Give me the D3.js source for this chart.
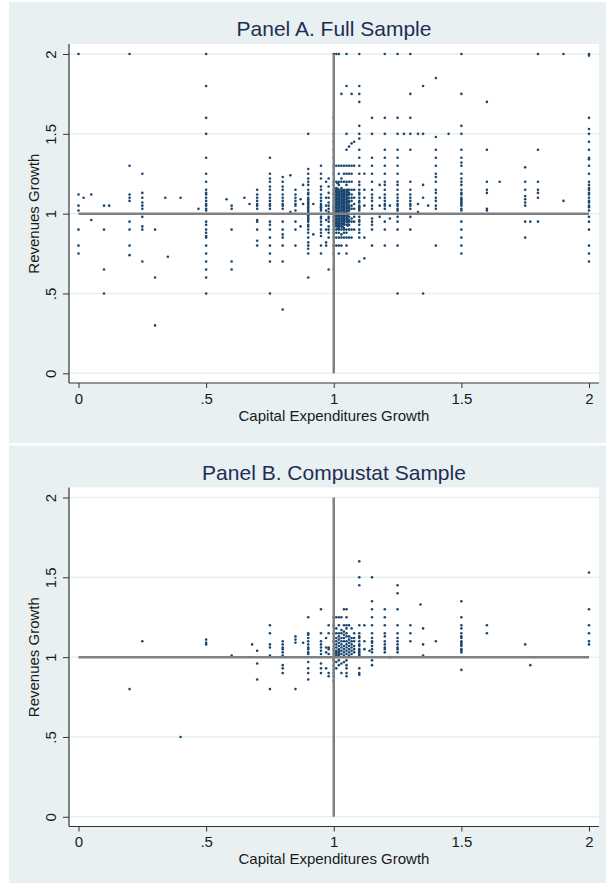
<!DOCTYPE html>
<html>
<head>
<meta charset="utf-8">
<script src="https://cdn.jsdelivr.net/npm/d3@7"></script>
<style>
body { margin: 0; background: #fff; }
text { font-family: "Liberation Sans", Arial, sans-serif; }
</style>
</head>
<body>
<svg id="chart" width="606" height="883"></svg>
<script>
// ---- data: capex growth columns and the revenue growth values found in each column ----
var panelTitles = ["Panel A. Full Sample", "Panel B. Compustat Sample"];
var xTitle = "Capital Expenditures Growth";
var yTitle = "Revenues Growth";
var xTicks = [0, 0.5, 1, 1.5, 2];
var xTickLabels = ["0", ".5", "1", "1.5", "2"];
var yTicks = [0, 0.5, 1, 1.5, 2];
var yTickLabels = ["0", ".5", "1", "1.5", "2"];

var fullCapex = [0, 0.02, 0.05, 0.1, 0.12, 0.2, 0.25, 0.3, 0.34, 0.35, 0.4, 0.47, 0.5, 0.58, 0.6, 0.65, 0.67,
    0.7, 0.75, 0.8, 0.83, 0.85, 0.87, 0.88, 0.9, 0.92, 0.95, 0.97, 0.98, 1.0, 1.01, 1.015, 1.02, 1.03, 1.035,
    1.04, 1.05, 1.055, 1.06, 1.07, 1.08, 1.1, 1.12, 1.15, 1.18, 1.2, 1.22, 1.25, 1.275, 1.3, 1.33, 1.35, 1.37,
    1.4, 1.45, 1.5, 1.6, 1.65, 1.75, 1.77, 1.8, 1.9, 2.0];
var fullRevenue = [
    [2.0, 1.12, 1.05, 1.02, 0.9, 0.8, 0.75],
    [1.1],
    [1.12, 0.96],
    [1.05, 0.9, 0.65, 0.5],
    [1.05],
    [2.0, 1.3, 1.12, 1.1, 1.08, 0.95, 0.9, 0.8, 0.74],
    [1.25, 1.13, 1.1, 1.07, 1.05, 1.03, 0.98, 0.92, 0.9, 0.7],
    [0.9, 0.6, 0.3],
    [1.1],
    [0.73],
    [1.1],
    [1.03],
    [2.0, 1.8, 1.6, 1.5, 1.35, 1.25, 1.2, 1.15, 1.13, 1.12, 1.1, 1.08, 1.06, 1.05, 1.03, 1.02, 0.95, 0.93, 0.9, 0.88, 0.86, 0.85, 0.8, 0.75, 0.7, 0.65, 0.6, 0.5],
    [1.09],
    [1.05, 1.03, 0.9, 0.7, 0.65],
    [1.1],
    [1.06],
    [1.15, 1.12, 1.1, 1.08, 1.06, 1.05, 1.03, 0.96, 0.95, 0.9, 0.83, 0.8],
    [1.35, 1.25, 1.22, 1.2, 1.17, 1.15, 1.12, 1.1, 1.08, 1.06, 1.05, 1.03, 0.95, 0.93, 0.9, 0.85, 0.8, 0.75, 0.7, 0.5],
    [1.23, 1.2, 1.17, 1.15, 1.12, 1.1, 1.08, 1.06, 1.05, 1.03, 0.95, 0.9, 0.87, 0.85, 0.8, 0.7, 0.4],
    [1.24, 1.01],
    [1.15, 1.12, 1.1, 1.08, 1.06, 1.05, 1.02, 0.95, 0.9, 0.8],
    [1.09, 0.92],
    [1.18, 1.06],
    [1.5, 1.28, 1.25, 1.22, 1.2, 1.18, 1.15, 1.13, 1.12, 1.1, 1.09, 1.08, 1.07, 1.06, 1.05, 1.04, 1.03, 1.02, 1.01, 0.99, 0.98, 0.97, 0.96, 0.95, 0.93, 0.92, 0.9, 0.88, 0.85, 0.82, 0.8, 0.78, 0.75, 0.6],
    [1.06, 0.87],
    [1.3, 1.25, 1.22, 1.17, 1.15, 1.12, 1.1, 1.08, 1.06, 1.05, 1.04, 1.03, 1.02, 0.98, 0.97, 0.95, 0.93, 0.9, 0.88, 0.86, 0.8, 0.75],
    [1.2, 1.1, 1.05, 1.02, 0.96, 0.9, 0.82, 0.8],
    [1.22, 1.17, 1.13, 1.1, 1.07, 1.05, 1.03, 1.01, 0.98, 0.97, 0.95, 0.92, 0.9, 0.88, 0.85, 0.65],
    [2.0, 1.6, 1.5, 1.45, 1.4, 1.35, 1.3, 1.25, 1.2, 1.18, 1.15, 1.13, 1.12, 1.1, 1.08, 1.06, 1.05, 1.04, 1.03, 1.02, 0.98, 0.96, 0.95, 0.93, 0.9, 0.88, 0.85, 0.8, 0.75, 0.65],
    [2.0, 1.3, 1.2, 1.16, 1.15, 1.14, 1.13, 1.12, 1.11, 1.1, 1.09, 1.08, 1.07, 1.06, 1.05, 1.04, 1.03, 1.02, 1.01, 0.99, 0.98, 0.97, 0.96, 0.95, 0.94, 0.93, 0.92, 0.9, 0.88, 0.85, 0.8],
    [1.19, 1.155, 1.135, 1.115, 1.095, 1.075, 1.055, 1.035, 1.015, 0.985, 0.965, 0.945, 0.925, 0.905],
    [2.0, 1.3, 1.25, 1.2, 1.18, 1.15, 1.14, 1.13, 1.12, 1.11, 1.1, 1.09, 1.08, 1.07, 1.06, 1.05, 1.04, 1.03, 1.02, 1.01, 0.99, 0.98, 0.97, 0.96, 0.95, 0.94, 0.93, 0.92, 0.91, 0.9, 0.88, 0.85, 0.8, 0.75],
    [1.75, 1.3, 1.22, 1.2, 1.16, 1.15, 1.14, 1.13, 1.12, 1.11, 1.1, 1.09, 1.08, 1.07, 1.06, 1.05, 1.04, 1.03, 1.02, 1.01, 0.99, 0.98, 0.97, 0.96, 0.95, 0.94, 0.93, 0.92, 0.9, 0.87, 0.85, 0.8],
    [1.145, 1.125, 1.105, 1.085, 1.065, 1.045, 1.025, 0.995, 0.975, 0.955, 0.935, 0.915],
    [1.3, 1.25, 1.2, 1.15, 1.14, 1.13, 1.12, 1.11, 1.1, 1.09, 1.08, 1.07, 1.06, 1.05, 1.04, 1.03, 1.02, 1.01, 0.99, 0.98, 0.97, 0.96, 0.95, 0.94, 0.93, 0.91, 0.9, 0.88, 0.85],
    [2.0, 1.8, 1.5, 1.4, 1.3, 1.25, 1.2, 1.18, 1.15, 1.14, 1.13, 1.12, 1.11, 1.1, 1.09, 1.08, 1.07, 1.06, 1.05, 1.04, 1.03, 1.02, 1.01, 0.99, 0.98, 0.97, 0.96, 0.95, 0.93, 0.9, 0.88, 0.85, 0.8, 0.75],
    [1.15, 1.135, 1.115, 1.095, 1.075, 1.055, 1.035, 1.015, 0.985, 0.965, 0.945, 0.925],
    [1.42, 1.3, 1.25, 1.2, 1.15, 1.13, 1.12, 1.1, 1.08, 1.07, 1.05, 1.04, 1.03, 1.02, 0.98, 0.96, 0.95, 0.93, 0.9, 0.85],
    [1.75, 1.44, 1.3, 1.25, 1.2, 1.15, 1.12, 1.1, 1.08, 1.05, 1.03, 0.97, 0.95, 0.9, 0.85],
    [1.45, 1.3, 1.15, 1.1, 1.06, 1.03, 0.98, 0.95, 0.9],
    [2.0, 1.8, 1.75, 1.7, 1.55, 1.5, 1.47, 1.4, 1.35, 1.3, 1.25, 1.2, 1.18, 1.15, 1.13, 1.12, 1.1, 1.08, 1.07, 1.05, 1.04, 1.03, 1.02, 0.98, 0.96, 0.95, 0.93, 0.9, 0.88, 0.85, 0.7],
    [1.25, 1.15, 1.1, 1.05, 0.85, 0.72],
    [1.6, 1.5, 1.35, 1.3, 1.25, 1.2, 1.15, 1.12, 1.1, 1.08, 1.05, 1.03, 0.97, 0.95, 0.93, 0.9, 0.8],
    [1.18, 1.1, 1.05, 0.98],
    [2.0, 1.6, 1.5, 1.4, 1.35, 1.3, 1.25, 1.2, 1.18, 1.15, 1.12, 1.1, 1.08, 1.06, 1.05, 1.03, 0.95, 0.9, 0.8],
    [1.05, 0.97],
    [2.0, 1.6, 1.5, 1.4, 1.35, 1.3, 1.25, 1.2, 1.18, 1.15, 1.12, 1.1, 1.08, 1.06, 1.05, 1.03, 1.02, 0.98, 0.95, 0.9, 0.8, 0.5],
    [1.5],
    [2.0, 1.75, 1.6, 1.5, 1.4, 1.2, 1.15, 1.12, 1.1, 1.08, 1.06, 1.05, 1.03, 0.98, 0.9],
    [1.5, 1.06, 1.01],
    [1.8, 1.5, 1.18, 1.1, 0.5],
    [1.05],
    [1.85, 1.48, 1.4, 1.35, 1.3, 1.25, 1.23, 1.2, 1.15, 1.13, 1.1, 1.08, 1.05, 1.03, 0.8],
    [1.5],
    [2.0, 1.75, 1.55, 1.5, 1.4, 1.35, 1.32, 1.3, 1.25, 1.22, 1.2, 1.18, 1.15, 1.13, 1.12, 1.1, 1.09, 1.08, 1.07, 1.06, 1.05, 1.03, 1.02, 0.95, 0.9, 0.85, 0.8, 0.75],
    [1.7, 1.4, 1.2, 1.15, 1.13, 1.03, 1.02],
    [1.2],
    [1.29, 1.2, 1.15, 1.11, 1.09, 1.07, 1.05, 0.95, 0.85],
    [0.95],
    [2.0, 1.4, 1.2, 1.15, 1.13, 1.1, 0.95],
    [2.0, 1.08],
    [2.0, 1.99, 1.6, 1.53, 1.5, 1.45, 1.4, 1.35, 1.34, 1.3, 1.25, 1.2, 1.18, 1.16, 1.15, 1.13, 1.12, 1.1, 1.08, 1.07, 1.05, 1.04, 1.02, 0.98, 0.95, 0.9, 0.8, 0.75, 0.7]
];

var compCapex = [0.2, 0.25, 0.4, 0.5, 0.6, 0.68, 0.7, 0.75, 0.8, 0.85, 0.88, 0.9, 0.95, 0.97, 0.98, 1.0, 1.01,
    1.02, 1.03, 1.04, 1.05, 1.06, 1.07, 1.08, 1.1, 1.12, 1.14, 1.15, 1.2, 1.22, 1.25, 1.3, 1.34, 1.35, 1.4,
    1.5, 1.6, 1.75, 1.77, 2.0];
var compRevenue = [
    [0.8],
    [1.1],
    [0.5],
    [1.11, 1.09, 1.08],
    [1.01],
    [1.08],
    [1.04, 0.96, 0.86],
    [1.2, 1.15, 1.08, 1.06, 1.01, 0.8],
    [1.1, 1.08, 1.06, 1.05, 1.03, 1.01, 0.95, 0.93, 0.9],
    [1.13, 1.11, 1.09, 0.8],
    [1.09],
    [1.25, 1.15, 1.14, 1.12, 1.1, 1.08, 1.06, 1.05, 1.03, 1.02, 0.97, 0.93, 0.9, 0.86],
    [1.3, 1.15, 1.1, 1.08, 1.06, 1.04, 1.02, 0.96, 0.93, 0.9],
    [1.12, 1.06, 1.03, 0.93],
    [1.2, 1.15, 1.06, 1.05, 1.02, 0.9, 0.88],
    [1.25, 1.2, 1.15, 1.1, 1.05, 1.02, 0.98, 0.95, 0.92, 0.9, 0.88, 0.85],
    [1.25, 1.18, 1.15, 1.12, 1.1, 1.08, 1.06, 1.04, 1.03, 1.02, 1.01, 0.97, 0.93],
    [1.25, 1.2, 1.15, 1.13, 1.11, 1.09, 1.07, 1.05, 1.04, 1.03, 1.02, 1.01, 0.98, 0.95],
    [1.25, 1.17, 1.15, 1.12, 1.1, 1.08, 1.06, 1.04, 1.02, 0.96, 0.9],
    [1.3, 1.2, 1.16, 1.14, 1.12, 1.1, 1.07, 1.05, 1.03, 1.01, 0.97],
    [1.3, 1.25, 1.2, 1.18, 1.15, 1.13, 1.1, 1.08, 1.06, 1.04, 1.02, 0.98, 0.95, 0.93, 0.9, 0.88],
    [1.2, 1.13, 1.11, 1.09, 1.07, 1.05, 1.03, 1.01],
    [1.18, 1.12, 1.1, 1.08, 1.06, 1.04, 1.02],
    [1.15, 1.12, 1.1, 1.07, 1.05, 1.03],
    [1.6, 1.5, 1.45, 1.2, 1.15, 1.13, 1.12, 1.1, 1.08, 1.07, 1.05, 1.04, 1.03, 1.02, 1.01, 0.93, 0.9, 0.89],
    [1.2, 1.1, 1.05],
    [1.04],
    [1.5, 1.35, 1.3, 1.25, 1.2, 1.15, 1.12, 1.1, 1.09, 1.07, 1.05, 1.03, 0.98, 0.95],
    [1.3, 1.25, 1.2, 1.15, 1.13, 1.1, 1.08, 1.06, 1.05, 1.03],
    [1.0],
    [1.45, 1.4, 1.3, 1.2, 1.15, 1.12, 1.1, 1.08, 1.06, 1.05, 1.03],
    [1.2, 1.15, 1.1],
    [1.33],
    [1.18, 1.08, 1.01],
    [1.1],
    [1.35, 1.25, 1.2, 1.18, 1.15, 1.13, 1.12, 1.1, 1.09, 1.08, 1.07, 1.05, 1.04, 1.03, 0.92],
    [1.2, 1.15],
    [1.08],
    [0.95],
    [1.53, 1.3, 1.2, 1.15, 1.1, 1.08]
];

// ---- drawing ----
var svg = d3.select("#chart");
var screen = {width: 606, height: 883};
var plot = {left: 69, right: 599, top: 44, bottom: 383};

var toPoints = function(capex, revenue)
{
    var pts = [];
    capex.forEach(function(c, i)
    {
        revenue[i].forEach(function(r) { pts.push({x: c, y: r}); });
    });
    return pts;
}

var drawPanel = function(offset, title, capex, revenue)
{
    var g = svg.append("g").attr("transform", "translate(0," + offset + ")");
    var bgHeight = Math.min(441, screen.height - offset - 2);

    g.append("rect")
        .attr("x", 9).attr("y", 2)
        .attr("width", screen.width - 9).attr("height", bgHeight)
        .attr("fill", "#e9f0f2");

    g.append("rect")
        .attr("x", plot.left).attr("y", plot.top)
        .attr("width", plot.right - plot.left).attr("height", plot.bottom - plot.top)
        .attr("fill", "#ffffff");

    var xScale = d3.scaleLinear().domain([0, 2]).range([78.5, 589]);
    var yScale = d3.scaleLinear().domain([0, 2]).range([373.3, 54]);

    // grid lines
    g.append("g").selectAll("line")
        .data(yTicks).enter().append("line")
        .attr("x1", plot.left).attr("x2", plot.right)
        .attr("y1", function(d) { return yScale(d); })
        .attr("y2", function(d) { return yScale(d); })
        .attr("stroke", "#e6eff1").attr("stroke-width", 1.5);

    // points
    g.append("g").selectAll("circle")
        .data(toPoints(capex, revenue)).enter().append("circle")
        .attr("cx", function(d) { return xScale(d.x); })
        .attr("cy", function(d) { return yScale(d.y); })
        .attr("r", 1.3)
        .attr("fill", "#1a476f");

    // reference lines at 1
    g.append("line")
        .attr("x1", xScale(1)).attr("x2", xScale(1))
        .attr("y1", yScale(0)).attr("y2", yScale(2))
        .attr("stroke", "#808080").attr("stroke-width", 2.5);
    g.append("line")
        .attr("x1", xScale(0)).attr("x2", xScale(2))
        .attr("y1", yScale(1)).attr("y2", yScale(1))
        .attr("stroke", "#808080").attr("stroke-width", 2.5);

    // axes
    var yAxis = d3.axisLeft(yScale)
        .tickValues(yTicks)
        .tickFormat(function(d, i) { return yTickLabels[i]; })
        .tickSize(6).tickSizeOuter(0);
    var ya = g.append("g").attr("transform", "translate(" + plot.left + ",0)").call(yAxis);
    ya.select(".domain").remove();
    ya.selectAll("line").attr("stroke", "#333");
    ya.selectAll("text")
        .attr("x", null).attr("dy", null)
        .attr("text-anchor", "middle")
        .attr("transform", "translate(-13,0) rotate(-90)")
        .attr("font-size", 15).attr("fill", "#1a1a1a")
        .attr("font-family", "Liberation Sans, Arial, sans-serif");

    var xAxis = d3.axisBottom(xScale)
        .tickValues(xTicks)
        .tickFormat(function(d, i) { return xTickLabels[i]; })
        .tickSize(5).tickSizeOuter(0);
    var xa = g.append("g").attr("transform", "translate(0," + plot.bottom + ")").call(xAxis);
    xa.select(".domain").remove();
    xa.selectAll("line").attr("stroke", "#333");
    xa.selectAll("text")
        .attr("y", 20.5).attr("dy", null)
        .attr("font-size", 15).attr("fill", "#1a1a1a")
        .attr("font-family", "Liberation Sans, Arial, sans-serif");

    g.append("line")
        .attr("x1", plot.left).attr("x2", plot.left)
        .attr("y1", plot.top).attr("y2", plot.bottom)
        .attr("stroke", "#333").attr("stroke-width", 1.2);
    g.append("line")
        .attr("x1", plot.left).attr("x2", plot.right)
        .attr("y1", plot.bottom).attr("y2", plot.bottom)
        .attr("stroke", "#333").attr("stroke-width", 1.2);

    // labels
    g.append("text")
        .text(title)
        .attr("x", (plot.left + plot.right) / 2).attr("y", 36)
        .attr("text-anchor", "middle")
        .attr("font-size", 21).attr("fill", "#1e2d54");

    g.append("text")
        .text(xTitle)
        .attr("x", (plot.left + plot.right) / 2).attr("y", 420.5)
        .attr("text-anchor", "middle")
        .attr("font-size", 15).attr("fill", "#1a1a1a");

    g.append("text")
        .text(yTitle)
        .attr("text-anchor", "middle")
        .attr("transform", "translate(39," + yScale(1) + ") rotate(-90)")
        .attr("font-size", 15).attr("fill", "#1a1a1a");
}

drawPanel(0, panelTitles[0], fullCapex, fullRevenue);
drawPanel(443.5, panelTitles[1], compCapex, compRevenue);
</script>
</body>
</html>
